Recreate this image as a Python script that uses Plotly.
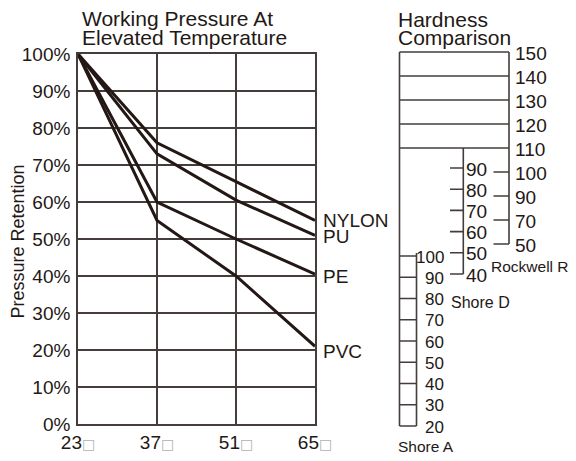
import plotly.graph_objects as go

# ---------------- data ----------------
temps = [23, 37, 51, 65]
temp_labels = ["23", "37", "51", "65"]
nylon = [100, 76, 65.5, 55]
pu = [100, 73, 60.5, 51]
pe = [100, 60, 50, 40.5]
pvc = [100, 55, 40, 21]
series_names = ["NYLON", "PU", "PE", "PVC"]
retention_ticks = [0, 10, 20, 30, 40, 50, 60, 70, 80, 90, 100]

rockwell_upper = [150, 140, 130, 120, 110]
rockwell_lower = [100, 90, 70, 50]
shore_d = [90, 80, 70, 60, 50, 40]
shore_a = [100, 90, 80, 70, 60, 50, 40, 30, 20]

# ---------------- style ----------------
OFF = 8                      # page body margin around the figure
W, H = 576 - OFF, 461 - 2 * OFF   # figure fits the 576x461 window without scrollbars
FONT = "Liberation Sans, Arial, sans-serif"
INK = "#231815"
GRID = "#453d3b"
TXT = "#231815"

fig = go.Figure()

series = [nylon, pu, pe, pvc]
for name, vals in zip(series_names, series):
    fig.add_trace(go.Scatter(x=temps, y=vals, mode="lines", name=name,
                             line=dict(color=INK, width=3), showlegend=False,
                             hoverinfo="skip", xaxis="x", yaxis="y"))

label_shift = {"NYLON": 0, "PU": -1, "PE": -2, "PVC": -5}
annotations = []
for name, vals in zip(series_names, series):
    annotations.append(dict(x=temps[-1], y=vals[-1], xref="x", yref="y", text=name,
                            showarrow=False, xanchor="left", yanchor="middle",
                            xshift=6, yshift=label_shift[name],
                            font=dict(size=19, color=TXT, family=FONT)))

# titles (positions given in window pixels)
def pann(text, px, py, size, xanchor="left", angle=0):
    return dict(x=(px - OFF) / W, y=1 - (py - OFF) / H, xref="paper", yref="paper",
                text=text, showarrow=False, xanchor=xanchor, yanchor="middle",
                textangle=angle, font=dict(size=size, color=TXT, family=FONT))

annotations += [
    pann("Working Pressure At", 80, 18, 21),
    pann("Elevated Temperature", 80, 38, 21),
    pann("Hardness", 396, 19.5, 21),
    pann("Comparison", 396, 38, 21),
    pann("Pressure Retention", 17.5, 242, 18, xanchor="center", angle=-90),
]

# ---------------- hardness diagram (x2/y2 in window-pixel-like units) ----------------
X_LEFT, X_A, X_D_TICK, X_D, X_R_TICK, X_R = 399.5, 416.5, 450, 463.3, 493.5, 509
R_TOP, R_STEP = 52, 24
D_TOP, D_STEP = 168, 21.2
A_TOP, A_STEP = 256, 21.25

rock_all = rockwell_upper + rockwell_lower
rock_y = [R_TOP + i * R_STEP for i in range(len(rock_all))]
d_y = [D_TOP + i * D_STEP for i in range(len(shore_d))]
a_y = [A_TOP + i * A_STEP for i in range(len(shore_a))]
n_up = len(rockwell_upper)

xs, ys = [], []
def seg(x0, y0, x1, y1):
    xs.extend([x0, x1, None]); ys.extend([y0, y1, None])

seg(X_LEFT, rock_y[0], X_LEFT, a_y[-1])
for y in rock_y[:n_up]:
    seg(X_LEFT, y, X_R, y)
seg(X_R, rock_y[0], X_R, rock_y[-1])
for y in rock_y[n_up:]:
    seg(X_R_TICK, y, X_R, y)
seg(X_D, rock_y[n_up - 1], X_D, d_y[-1])
for y in d_y:
    seg(X_D_TICK, y, X_D, y)
for y in a_y:
    seg(X_LEFT, y, X_A, y)
seg(X_A, a_y[0] - 3, X_A, a_y[-1])

fig.add_trace(go.Scatter(x=xs, y=ys, mode="lines", line=dict(color=GRID, width=1.6),
                         showlegend=False, hoverinfo="skip", xaxis="x2", yaxis="y2"))

def hann(text, x, y, size, xanchor="left", yshift=0):
    return dict(x=x, y=y, xref="x2", yref="y2", text=text, showarrow=False,
                xanchor=xanchor, yanchor="middle", yshift=yshift,
                font=dict(size=size, color=TXT, family=FONT))

for v, y in zip(rock_all, rock_y):
    annotations.append(hann(str(v), X_R + 4, y, 19, yshift=-1))
for v, y in zip(shore_d, d_y):
    annotations.append(hann(str(v), X_D + 1, y, 19, yshift=-1))
for v, y in zip(shore_a, a_y):
    annotations.append(hann(str(v), 446, y, 17, xanchor="right", yshift=-1))
annotations += [
    hann("Rockwell R", 489, 266, 15.5),
    hann("Shore D", 449, 302, 16),
    hann("Shore A", 396, 446.5, 15.5),
]

# ---------------- layout ----------------
tick_font = dict(size=19, color=TXT, family=FONT)
x_domain_px = (78 - OFF, 315 - OFF)
y_domain_px = (54 - OFF, 424 - OFF)
x2_dom = (0.68, 1.0)
box = "<span style='font-family:DejaVu Sans;color:#b0b0b0;font-size:14px'>□</span>"

fig.update_layout(
    width=W, height=H, margin=dict(l=0, r=0, t=0, b=0, autoexpand=False),
    paper_bgcolor="white", plot_bgcolor="rgba(0,0,0,0)",
    hovermode=False, showlegend=False,
    xaxis=dict(domain=[x_domain_px[0] / W, x_domain_px[1] / W], range=[23, 65],
               tickvals=temps, ticktext=[t + box for t in temp_labels],
               showgrid=True, gridcolor=GRID, gridwidth=1.6,
               showline=True, linecolor=GRID, linewidth=1.6, mirror=True,
               zeroline=False, ticks="", tickfont=tick_font, fixedrange=True,
               automargin=False),
    yaxis=dict(domain=[1 - y_domain_px[1] / H, 1 - y_domain_px[0] / H], range=[0, 100],
               tickvals=retention_ticks, ticktext=[f"{v}%" for v in retention_ticks],
               showgrid=True, gridcolor=GRID, gridwidth=1.6,
               showline=True, linecolor=GRID, linewidth=1.6, mirror=True,
               zeroline=False, ticks="", tickfont=tick_font, fixedrange=True,
               automargin=False, ticklabelstandoff=2),
    xaxis2=dict(domain=list(x2_dom), range=[x2_dom[0] * W + OFF, x2_dom[1] * W + OFF],
                visible=False, anchor="y2", fixedrange=True, automargin=False),
    yaxis2=dict(domain=[0, 1], range=[H + OFF, OFF], visible=False, anchor="x2",
                fixedrange=True, automargin=False),
    annotations=annotations,
)

fig.write_html("out.html")
